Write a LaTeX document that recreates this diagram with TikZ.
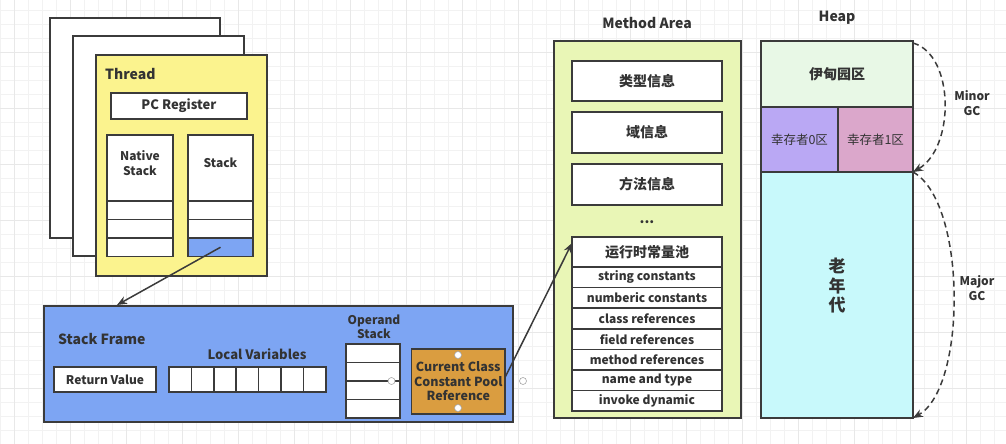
\documentclass[tikz,border=0pt]{standalone}
\usepackage{fontspec}
\setmainfont{Noto Sans CJK SC}
\usepackage{tikz}
\usetikzlibrary{positioning,arrows.meta}

\definecolor{linec}{HTML}{3B3B3B}
\definecolor{textc}{HTML}{333333}
\definecolor{threadc}{HTML}{FBF38E}
\definecolor{framec}{HTML}{7DA5F3}
\definecolor{orangec}{HTML}{DA9D40}
\definecolor{methodc}{HTML}{E9F6B6}
\definecolor{edenc}{HTML}{E8F8E6}
\definecolor{szeroc}{HTML}{BAA8F4}
\definecolor{sonec}{HTML}{DBA7CB}
\definecolor{oldc}{HTML}{C8F9FB}

\begin{document}
\begin{tikzpicture}
 [x=1pt,y=-1pt,
  box/.style={draw=linec, line width=1.7pt, fill=white, inner sep=0pt, outer sep=0pt,
    text=textc, align=center, font=\bfseries\fontsize{12}{14}\selectfont},
  cell/.style={box, minimum width=#1, minimum height=18.5},
  lbl/.style={inner sep=0pt, text=textc, align=center, font=\bfseries\fontsize{12}{14.5}\selectfont},
  title/.style={inner sep=0pt, text=textc, font=\bfseries\fontsize{14}{16}\selectfont},
  handle/.style={circle, draw=gray!70, fill=white, line width=0.6pt, minimum size=7, inner sep=0pt},
  link/.style={draw=linec, line width=1.5pt, -{Stealth[length=10pt,width=8pt]}},
  gc/.style={draw=linec, line width=1.5pt, dash pattern=on 6pt off 4pt, -{Stealth[length=10pt,width=8pt]}}]

\useasboundingbox (0,0) rectangle (1006,444);
\foreach \x in {0,14,...,1006} \draw[black!5] (\x,0) -- (\x,444);
\foreach \y in {10,24,...,444} \draw[black!5] (0,\y) -- (1006,\y);
\foreach \x in {14,70,...,1006} \draw[black!9] (\x,0) -- (\x,444);
\foreach \y in {52,108,...,444} \draw[black!9] (0,\y) -- (1006,\y);

\node[box, minimum width=170, minimum height=220, anchor=north west] (page1) at (50,18) {};
\node[box, minimum width=171, minimum height=220, anchor=north west] (page2) at (73,36) {};
\node[box, fill=threadc, minimum width=171, minimum height=221, anchor=north west] (thread) at (96,55) {};
 \node[title, anchor=west] (threadt) at (105,74) {Thread};
\node[box, minimum width=136, minimum height=26, anchor=north west, font=\bfseries\fontsize{13}{15}\selectfont] (pc) at (111,93) {PC Register};

\node[box, minimum width=66, minimum height=66, anchor=north west] (ntop) at (107,135) {};
 \node[cell=66, below=0pt of ntop] (nrow1) {};
 \node[cell=66, below=0pt of nrow1] (nrow2) {};
 \node[cell=66, below=0pt of nrow2] (nrow3) {};
 \node[lbl] (ntext) at (140,163) {Native\\Stack};
\node[box, minimum width=65, minimum height=66, anchor=north west] (stop) at (188,135) {};
 \node[cell=65, below=0pt of stop] (srow1) {};
 \node[cell=65, below=0pt of srow1] (srow2) {};
 \node[cell=65, fill=framec, below=0pt of srow2] (srow3) {};
 \node[lbl] (stext) at (220.5,163) {Stack};

\node[box, fill=framec, minimum width=469, minimum height=116, anchor=north west] (frame) at (44,306) {};
 \node[title, anchor=west] (framet) at (58,339) {Stack Frame};
\node[box, minimum width=102, minimum height=25] (ret) at (105,379.5) {Return Value};
 \node[title, font=\bfseries\fontsize{13}{15}\selectfont] (lvt) at (257,354) {Local Variables};
\foreach \i in {0,...,6}
  \node[box, minimum width=22.4, minimum height=25, anchor=north west] (lv\i) at (169+22.4*\i,367) {};
 \node[lbl] (opt) at (374,327) {Operand\\Stack};
\node[cell=54, anchor=north west] (op1) at (346,344) {};
 \node[cell=54, below=0pt of op1] (op2) {};
 \node[cell=54, below=0pt of op2] (op3) {};
 \node[cell=54, below=0pt of op3] (op4) {};
\node[box, fill=orangec, minimum width=93.5, minimum height=65, anchor=north west,
  font=\bfseries\fontsize{12.5}{14.5}\selectfont] (cccpr) at (411.5,349) {Current Class\\Constant Pool\\Reference};
\node[handle] (h1) at (391.5,381) {};
\node[handle] (h2) at (458,355) {};
\node[handle] (h3) at (458,408) {};
\node[handle] (h4) at (523,381) {};

 \node[title] (mat) at (647,23) {Method Area};
\node[box, fill=methodc, minimum width=187, minimum height=377, anchor=north west] (method) at (554,41) {};
\node[box, minimum width=150, minimum height=40, font=\bfseries\fontsize{14}{16}\selectfont] (type) at (647,81) {类型信息};
\node[box, minimum width=150, minimum height=41, font=\bfseries\fontsize{14}{16}\selectfont] (field) at (647,132.5) {域信息};
\node[box, minimum width=150, minimum height=41, font=\bfseries\fontsize{14}{16}\selectfont] (meth) at (647,184.5) {方法信息};
 \node[title] (dots) at (647,222) {...};
\node[box, minimum width=150, minimum height=30, anchor=north west, font=\bfseries\fontsize{14}{16}\selectfont] (pool) at (572,237) {运行时常量池};
 \node[box, minimum width=150, minimum height=20.6, below=0pt of pool] (p1) {string constants};
 \node[box, minimum width=150, minimum height=20.6, below=0pt of p1] (p2) {numberic constants};
 \node[box, minimum width=150, minimum height=20.6, below=0pt of p2] (p3) {class references};
 \node[box, minimum width=150, minimum height=20.6, below=0pt of p3] (p4) {field references};
 \node[box, minimum width=150, minimum height=20.6, below=0pt of p4] (p5) {method references};
 \node[box, minimum width=150, minimum height=20.6, below=0pt of p5] (p6) {name and type};
 \node[box, minimum width=150, minimum height=20.6, below=0pt of p6] (p7) {invoke dynamic};

 \node[title] (heapt) at (837,18) {Heap};
\node[box, fill=edenc, minimum width=152, minimum height=66, anchor=north west, font=\bfseries\fontsize{14}{16}\selectfont] (eden) at (761,41) {伊甸园区};
\node[box, fill=szeroc, minimum width=77, minimum height=65, anchor=north west, font=\fontsize{12.5}{15}\selectfont] (s0) at (761,107) {幸存者0区};
\node[box, fill=sonec, minimum width=75, minimum height=65, anchor=north west, font=\fontsize{12.5}{15}\selectfont] (s1) at (838,107) {幸存者1区};
\node[box, fill=oldc, minimum width=152, minimum height=246, anchor=north west] (old) at (761,172) {};
 \node[lbl, font=\bfseries\fontsize{17}{19.5}\selectfont] (oldt) at (837,286) {老\\年\\代};
 \node[lbl] (minor) at (972,103) {Minor\\GC};
 \node[lbl] (major) at (977,288) {Major\\GC};

\path
  (srow3.center) edge [link] ([xshift=73pt,yshift=1pt]frame.north west)
  ([yshift=4pt]cccpr.east) edge [link] ([yshift=-6pt]pool.north west);
\draw[gc] ([yshift=-2pt]eden.north east)
  .. controls ([xshift=42pt,yshift=-14pt]eden.north east) and ([xshift=42pt,yshift=24pt]old.north east) .. (old.north east);
\draw[gc] (old.north east)
  .. controls ([xshift=54pt,yshift=-30pt]old.north east) and ([xshift=54pt,yshift=30pt]old.south east) .. (old.south east);

\end{tikzpicture}
\end{document}
